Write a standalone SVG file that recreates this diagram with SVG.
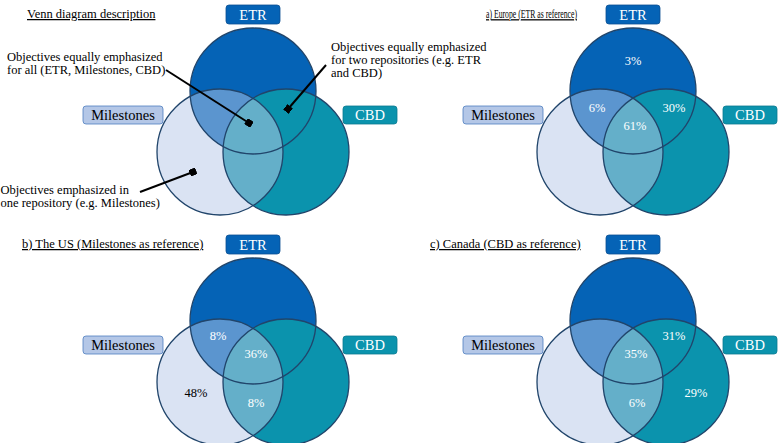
<svg xmlns="http://www.w3.org/2000/svg" xmlns:xlink="http://www.w3.org/1999/xlink" width="781" height="443" viewBox="0 0 781 443">
<style>
  .lbl { font-family: "Liberation Serif", "Times New Roman", serif; font-size: 14.5px; text-anchor: middle; }
  .wt { fill: #ffffff; }
  .bk { fill: #000000; }
  .desc { font-family: "Liberation Serif", "Times New Roman", serif; font-size: 12.5px; fill: #000; }
  .title { font-family: "Liberation Serif", "Times New Roman", serif; font-size: 12.5px; fill: #000; text-decoration: underline; }
  .pct { font-family: "Liberation Serif", "Times New Roman", serif; font-size: 12.5px; text-anchor: middle; }
  .bE { fill: #0563b6; stroke: #0b4f92; stroke-width: 0.8; }
  .bM { fill: #b4c7e7; stroke: #4f7fc0; stroke-width: 0.8; }
  .bC { fill: #0b93ad; stroke: #0a7a91; stroke-width: 0.8; }
  .outline { fill: none; stroke: #21456b; stroke-width: 1.3; }
  .ptr { stroke: #000; stroke-width: 2; fill: none; marker-end: url(#sq); }
</style>
<defs>
  <marker id="sq" markerUnits="userSpaceOnUse" markerWidth="7" markerHeight="7" refX="3.5" refY="3.5" orient="auto">
    <rect x="0" y="0" width="7" height="7" fill="#000"/>
  </marker>
  <clipPath id="cM" clipPathUnits="userSpaceOnUse"><circle cx="220" cy="152" r="63"/></clipPath>
  <clipPath id="cC" clipPathUnits="userSpaceOnUse"><circle cx="286" cy="152" r="63"/></clipPath>
  <g id="venn">
    <circle cx="220" cy="152" r="63" fill="#dae3f3"/>
    <circle cx="286" cy="152" r="63" fill="#0b93ad"/>
    <circle cx="253" cy="91" r="63" fill="#0563b6"/>
    <circle cx="253" cy="91" r="63" fill="#0b93ad" clip-path="url(#cC)"/>
    <circle cx="253" cy="91" r="63" fill="#5b95cf" clip-path="url(#cM)"/>
    <circle cx="286" cy="152" r="63" fill="#64afc9" clip-path="url(#cM)"/>
    <circle class="outline" cx="220" cy="152" r="63"/>
    <circle class="outline" cx="286" cy="152" r="63"/>
    <circle class="outline" cx="253" cy="91" r="63"/>
  </g>
</defs>

<!-- Panel: Venn diagram description -->
<g id="panel-description">
  <text class="title" x="27" y="18">Venn diagram description</text>
  <g id="desc-venn"><use xlink:href="#venn" href="#venn"/></g>
  <g id="desc-etr"><rect class="bE" x="226" y="5" width="54" height="19" rx="3"/><text class="lbl wt" x="253" y="20">ETR</text></g>
  <g id="desc-milestones"><rect class="bM" x="83" y="106" width="80" height="18" rx="3"/><text class="lbl bk" x="123" y="120">Milestones</text></g>
  <g id="desc-cbd"><rect class="bC" x="343" y="106" width="54" height="18" rx="3"/><text class="lbl wt" x="370" y="120">CBD</text></g>
  <g id="desc-all-text">
    <text class="desc" x="7" y="61">Objectives equally emphasized</text>
    <text class="desc" x="7" y="74">for all (ETR, Milestones, CBD)</text>
  </g>
  <g id="desc-two-text">
    <text class="desc" x="331" y="51">Objectives equally emphasized</text>
    <text class="desc" x="331" y="64">for two repositories (e.g. ETR</text>
    <text class="desc" x="331" y="77">and CBD)</text>
  </g>
  <g id="desc-one-text">
    <text class="desc" x="0.5" y="194">Objectives emphasized in</text>
    <text class="desc" x="0.5" y="207">one repository (e.g. Milestones)</text>
  </g>
</g>

<g id="connectors">
  <line class="ptr" x1="166" y1="70" x2="249" y2="123"/>
  <line class="ptr" x1="326" y1="65" x2="288" y2="109"/>
  <line class="ptr" x1="140" y1="192" x2="193" y2="172"/>
</g>

<!-- Panel a -->
<g id="panel-a">
  <text class="title" transform="translate(486,18) scale(0.62,1)" x="0" y="0">a) Europe (ETR as reference)</text>
  <g id="a-venn"><use xlink:href="#venn" href="#venn" transform="translate(380,0)"/></g>
  <g id="a-etr"><rect class="bE" x="606" y="5" width="54" height="19" rx="3"/><text class="lbl wt" x="633" y="20">ETR</text></g>
  <g id="a-milestones"><rect class="bM" x="463" y="106" width="80" height="18" rx="3"/><text class="lbl bk" x="503" y="120">Milestones</text></g>
  <g id="a-cbd"><rect class="bC" x="723" y="106" width="54" height="18" rx="3"/><text class="lbl wt" x="750" y="120">CBD</text></g>
  <text class="pct wt" x="633" y="65">3%</text>
  <text class="pct wt" x="597" y="112">6%</text>
  <text class="pct wt" x="674" y="112">30%</text>
  <text class="pct wt" x="635" y="130">61%</text>
</g>

<!-- Panel b -->
<g id="panel-b">
  <text class="title" x="22" y="248">b) The US (Milestones as reference)</text>
  <g id="b-venn"><use xlink:href="#venn" href="#venn" transform="translate(0,230)"/></g>
  <g id="b-etr"><rect class="bE" x="226" y="235" width="54" height="19" rx="3"/><text class="lbl wt" x="253" y="250">ETR</text></g>
  <g id="b-milestones"><rect class="bM" x="83" y="336" width="80" height="18" rx="3"/><text class="lbl bk" x="123" y="350">Milestones</text></g>
  <g id="b-cbd"><rect class="bC" x="343" y="336" width="54" height="18" rx="3"/><text class="lbl wt" x="370" y="350">CBD</text></g>
  <text class="pct wt" x="218" y="340">8%</text>
  <text class="pct wt" x="256" y="358">36%</text>
  <text class="pct bk" x="196" y="397">48%</text>
  <text class="pct wt" x="256" y="407">8%</text>
</g>

<!-- Panel c -->
<g id="panel-c">
  <text class="title" x="430" y="248">c) Canada (CBD as reference)</text>
  <g id="c-venn"><use xlink:href="#venn" href="#venn" transform="translate(380,230)"/></g>
  <g id="c-etr"><rect class="bE" x="606" y="235" width="54" height="19" rx="3"/><text class="lbl wt" x="633" y="250">ETR</text></g>
  <g id="c-milestones"><rect class="bM" x="463" y="336" width="80" height="18" rx="3"/><text class="lbl bk" x="503" y="350">Milestones</text></g>
  <g id="c-cbd"><rect class="bC" x="723" y="336" width="54" height="18" rx="3"/><text class="lbl wt" x="750" y="350">CBD</text></g>
  <text class="pct wt" x="674" y="340">31%</text>
  <text class="pct wt" x="636" y="358">35%</text>
  <text class="pct wt" x="696" y="397">29%</text>
  <text class="pct wt" x="637" y="407">6%</text>
</g>
</svg>
